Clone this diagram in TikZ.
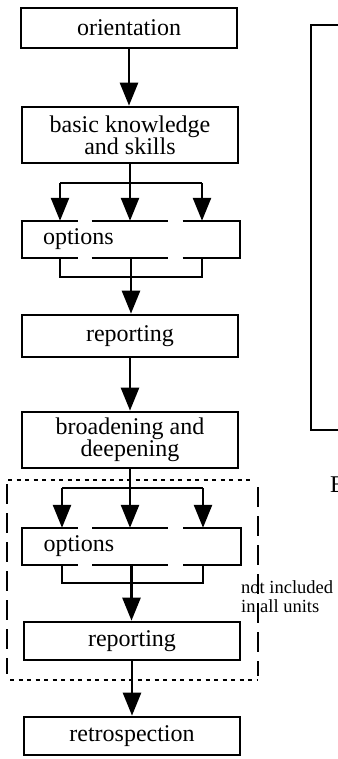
\documentclass[tikz,border=0pt]{standalone}
\usepackage{fontspec}
\setmainfont{Liberation Serif}
\usetikzlibrary{arrows.meta,calc}
\begin{document}
\begin{tikzpicture}[x=1pt,y=-1pt,
  box/.style={draw,line width=2.7pt,minimum width=216pt,inner sep=0pt,align=center,font=\fontsize{24}{22}\selectfont},
  optbox/.style={inner xsep=21pt,inner ysep=0pt,text width=176pt,align=left,minimum height=37pt,font=\fontsize{24}{22}\selectfont},
  gapline/.style={line width=2.5pt,dash pattern=on 57pt off 14pt on 76pt off 15pt on 60pt},
  sideline/.style={line width=2.3pt},
  conn/.style={line width=2.6pt},
  arr/.style={conn,-{Triangle[width=18pt,length=23pt]}},
  dotline/.style={line width=2.6pt,dash pattern=on 4pt off 4.5pt},
  longdash/.style={line width=2.4pt,dash pattern=on 20pt off 9pt},
  note/.style={font=\fontsize{18.5}{19}\selectfont,align=left,inner sep=0pt}
]
\useasboundingbox (0,0) rectangle (337,759);

% main boxes
\node[box,minimum height=40pt] (ori) at (129,28) {orientation};
\node[box,minimum height=56pt] (bas) at (130,135) {basic knowledge\\and skills};
\node[optbox] (opt1) at (131,239.5) {options};
\node[box,minimum height=42pt] (rep1) at (130,336) {reporting};
\node[box,minimum height=56pt] (brd) at (130,440) {broadening and\\deepening};
\node[optbox] (opt2) at (131.5,546.5) {options};
\node[box,minimum height=38pt] (rep2) at (132,641) {reporting};
\node[box,minimum height=38pt] (retro) at (132,736) {retrospection};

% options box borders with gaps
\foreach \o in {opt1,opt2}{
  \draw[sideline] (\o.north west) -- (\o.south west);
  \draw[sideline] (\o.north east) -- (\o.south east);
  \draw[gapline] ($(\o.north west)+(-1.1,0)$) -- ($(\o.north east)+(1.1,0)$);
  \draw[gapline] ($(\o.south west)+(-1.1,0)$) -- ($(\o.south east)+(1.1,0)$);
}

% connectors
\draw[arr] (ori.south) -- (ori.south |- bas.north);

\coordinate (b1L) at (60,183);
\coordinate (b1R) at (202,183);
\draw[arr] (bas.south) -- (bas.south |- opt1.north);
\draw[conn] (b1L) -- (b1R);
\draw[arr] (b1L) -- (b1L |- opt1.north);
\draw[arr] (b1R) -- (b1R |- opt1.north);

\coordinate (j1L) at (60,277);
\coordinate (j1R) at (202,277);
\draw[conn] (j1L |- opt1.south) -- (j1L) -- (j1R) -- (j1R |- opt1.south);
\draw[arr] (opt1.south) -- (opt1.south |- rep1.north);

\draw[arr] (rep1.south) -- (rep1.south |- brd.north);

\coordinate (b2L) at (62,488);
\coordinate (b2R) at (203,488);
\draw[arr] (brd.south) -- (brd.south |- opt2.north);
\draw[conn] (b2L) -- (b2R);
\draw[arr] (b2L) -- (b2L |- opt2.north);
\draw[arr] (b2R) -- (b2R |- opt2.north);

\coordinate (j2L) at (62,583);
\coordinate (j2R) at (203,583);
\draw[conn] (j2L |- opt2.south) -- (j2L) -- (j2R) -- (j2R |- opt2.south);
\draw[arr] (opt2.south) -- (opt2.south |- rep2.north);

\draw[arr] (rep2.south) -- (rep2.south |- retro.north);

% note
\node[note,anchor=west] (nt) at (241,597) {not included\\in all units};

% dashed group frame
\draw[dotline] (8,480) -- (254,480);
\draw[dotline] (10,680) -- (258,680);
\draw[longdash] (7,484) -- (7,674);
\draw[longdash] (258,487) -- (258,676);

% right box (cut off) and cut-off letter
\draw[line width=2.6pt] (345,25) -- (311,25) -- (311,430) -- (345,430);
\node[anchor=west,inner sep=0pt,font=\fontsize{24}{24}\selectfont] (e) at (330,485) {E};
\end{tikzpicture}
\end{document}
